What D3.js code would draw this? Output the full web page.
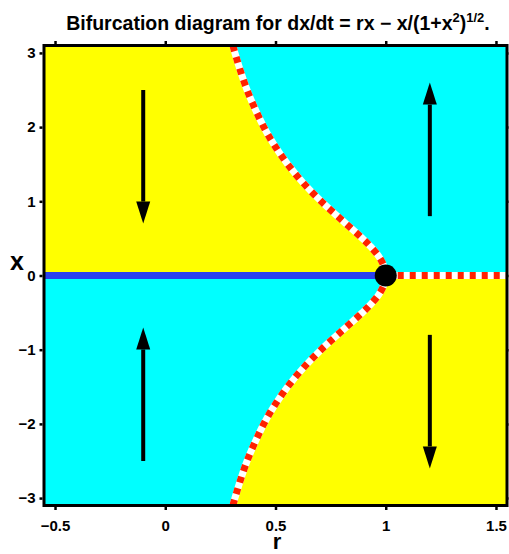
<!DOCTYPE html>
<html>
<head>
<meta charset="utf-8">
<script src="https://cdn.jsdelivr.net/npm/d3@7"></script>
<style>
	body { margin:0; background:#fff; }
	text { font-family:"Liberation Sans", Arial, sans-serif; font-weight:bold; fill:#000; }
</style>
</head>
<body>
<div id="svgContainer"></div>
<script>
// values
const rTicks = [-0.5, 0, 0.5, 1, 1.5];
const xTicks = [-3, -2, -1, 0, 1, 2, 3];
const rDomain = [-0.55, 1.55];
const xDomain = [-3.1, 3.1];

// unstable branch (upper half), x >= 0 ; lower half is mirrored
const branchX = [0, 0.1, 0.25, 0.4, 0.5, 0.75, 1, 1.25, 1.5, 1.75, 2, 2.5, 3, 3.1];
const branchR = [1, 0.995, 0.97, 0.928, 0.894, 0.8, 0.707, 0.625, 0.555, 0.496, 0.447, 0.371, 0.316, 0.307];

const stableR = [-0.55, 1];     // x = 0, stable
const unstableR = [1, 1.55];    // x = 0, unstable
const bifPoint = {r:1, x:0};

// flow arrows
const arrowR = [-0.1, -0.1, 1.2, 1.2];
const arrowFrom = [2.5, -2.5, 0.8, -0.8];
const arrowTo = [0.7, -0.7, 2.6, -2.6];

const width = 509, height = 554;
const plot = {left:44, right:507, top:45.5, bottom:505.5};

var svg = d3.select("#svgContainer").append("svg")
	.attr("width", width)
	.attr("height", height);

var rScale = d3.scaleLinear().domain(rDomain).range([plot.left, plot.right]);
var xScale = d3.scaleLinear().domain(xDomain).range([plot.bottom, plot.top]);

var upper = branchX.map(function(x, i){ return {x:x, r:branchR[i]}; });
var lower = branchX.map(function(x, i){ return {x:-x, r:branchR[i]}; });

// background regions
svg.append("rect")
	.attr("x", plot.left).attr("y", xScale(xDomain[1]))
	.attr("width", plot.right - plot.left).attr("height", xScale(0) - xScale(xDomain[1]))
	.attr("fill", "#ffff00");
svg.append("rect")
	.attr("x", plot.left).attr("y", xScale(0))
	.attr("width", plot.right - plot.left).attr("height", xScale(xDomain[0]) - xScale(0))
	.attr("fill", "#00ffff");

var areaRight = d3.area()
	.y(function(d){ return xScale(d.x); })
	.x0(function(d){ return rScale(d.r); })
	.x1(rScale(rDomain[1]))
	.curve(d3.curveCatmullRom);

svg.append("path").datum(upper).attr("d", areaRight).attr("fill", "#00ffff");
svg.append("path").datum(lower).attr("d", areaRight).attr("fill", "#ffff00");

// fixed point lines
var lineFunction = d3.line()
	.x(function(d){ return rScale(d.r); })
	.y(function(d){ return xScale(d.x); })
	.curve(d3.curveCatmullRom);

svg.append("line")
	.attr("x1", rScale(stableR[0])).attr("x2", rScale(stableR[1]))
	.attr("y1", xScale(0)).attr("y2", xScale(0))
	.attr("stroke", "#2a40ee").attr("stroke-width", 7);

var dashed = [upper, lower, unstableR.map(function(r){ return {r:r, x:0}; })];
dashed.forEach(function(d){
	svg.append("path").datum(d).attr("d", lineFunction)
		.attr("fill", "none").attr("stroke", "#fff").attr("stroke-width", 7);
	svg.append("path").datum(d).attr("d", lineFunction)
		.attr("fill", "none").attr("stroke", "#ff2200").attr("stroke-width", 7)
		.attr("stroke-dasharray", "6,6");
});

svg.append("circle")
	.attr("cx", rScale(bifPoint.r)).attr("cy", xScale(bifPoint.x))
	.attr("r", 11).attr("fill", "#000");

// arrows
arrowR.forEach(function(r, i){
	var px = rScale(r), y0 = xScale(arrowFrom[i]), y1 = xScale(arrowTo[i]);
	var dir = y1 > y0 ? 1 : -1;
	var headLen = 22, headW = 7;
	svg.append("line")
		.attr("x1", px).attr("x2", px)
		.attr("y1", y0).attr("y2", y1 - dir*headLen)
		.attr("stroke", "#000").attr("stroke-width", 4);
	svg.append("path")
		.attr("d", "M" + (px-headW) + "," + (y1 - dir*headLen) + " L" + (px+headW) + "," + (y1 - dir*headLen) + " L" + px + "," + y1 + " Z")
		.attr("fill", "#000");
});

// frame
svg.append("rect")
	.attr("x", plot.left).attr("y", plot.top)
	.attr("width", plot.right - plot.left).attr("height", plot.bottom - plot.top)
	.attr("fill", "none").attr("stroke", "#000").attr("stroke-width", 3);

// axes
var fmt = function(d){ return d < 0 ? "\u2212" + Math.abs(d) : String(d); };

var bottomAxis = d3.axisBottom(rScale).tickValues(rTicks).tickSize(3).tickPadding(10).tickFormat(fmt);
var topAxis = d3.axisTop(rScale).tickValues(rTicks).tickSize(3).tickFormat("");
var leftAxis = d3.axisLeft(xScale).tickValues(xTicks).tickSize(3).tickPadding(4).tickFormat(fmt);
var rightAxis = d3.axisRight(xScale).tickValues(xTicks).tickSize(3).tickFormat("");

function styleAxis(g){
	g.select(".domain").remove();
	g.selectAll(".tick line").attr("stroke", "#000").attr("stroke-width", 2.5);
	g.selectAll(".tick text").style("font-size", "15px").style("font-family", "Liberation Sans, Arial, sans-serif").style("font-weight", "bold").attr("fill", "#000");
}

svg.append("g").attr("transform", "translate(0," + (plot.bottom + 1.5) + ")").call(bottomAxis).call(styleAxis);
svg.append("g").attr("transform", "translate(0," + (plot.top - 1.5) + ")").call(topAxis).call(styleAxis);
svg.append("g").attr("transform", "translate(" + (plot.left - 1.5) + ",0)").call(leftAxis).call(styleAxis);
svg.append("g").attr("transform", "translate(" + (plot.right + 1.5) + ",0)").call(rightAxis).call(styleAxis);

// axis labels
svg.append("text").attr("x", 17).attr("y", 270).attr("text-anchor", "middle")
	.style("font-size", "25px").text("x");
svg.append("text").attr("x", 277).attr("y", 549).attr("text-anchor", "middle")
	.style("font-size", "22px").text("r");

// title
var title = svg.append("text").attr("x", 278).attr("y", 30).attr("text-anchor", "middle")
	.style("font-size", "19.5px");
title.append("tspan").text("Bifurcation diagram for dx/dt = rx \u2212 x/(1+x");
title.append("tspan").attr("dy", -8).style("font-size", "13px").text("2");
title.append("tspan").attr("dy", 8).text(")");
title.append("tspan").attr("dy", -8).style("font-size", "13px").text("1/2");
title.append("tspan").attr("dy", 8).text(".");
</script>
</body>
</html>
